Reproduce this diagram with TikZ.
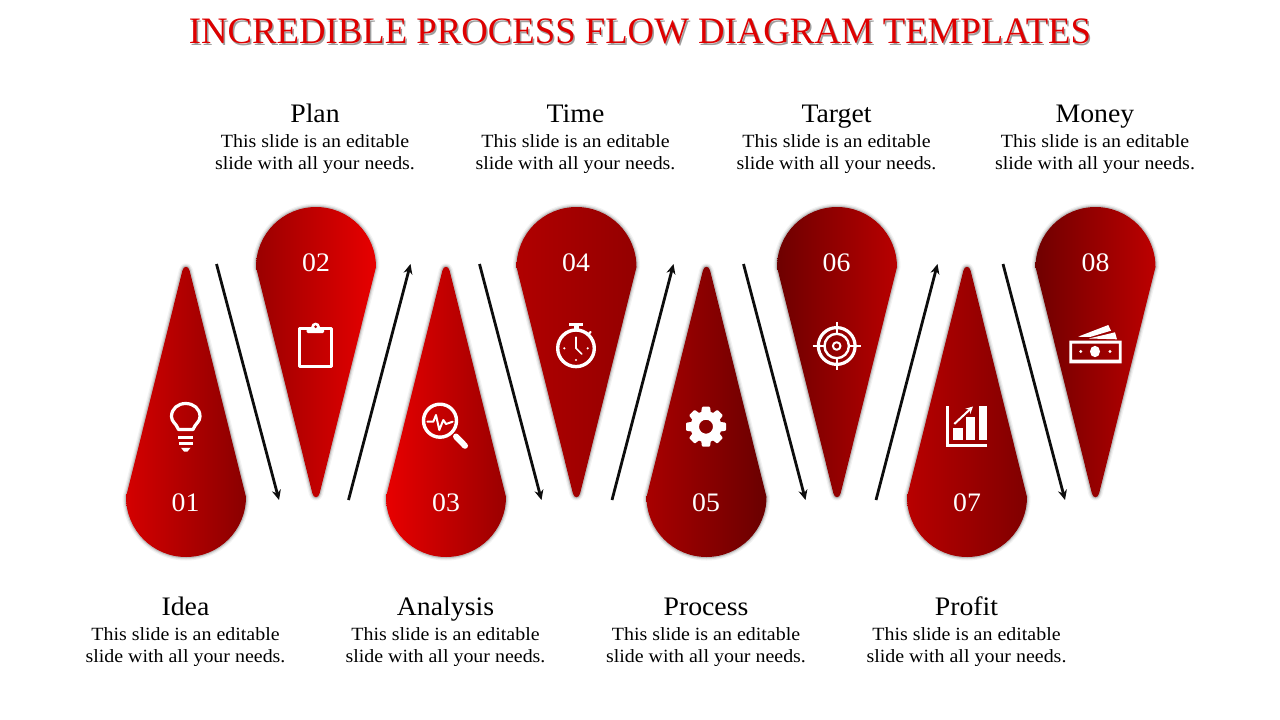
\documentclass[tikz,border=0pt]{standalone}
\usepackage{fontspec}
\setmainfont[FakeStretch=1.04]{Liberation Serif}
\newfontfamily\titlefont[FakeStretch=.985]{Liberation Serif}
\newfontfamily\copyfont[FakeStretch=1.068]{Liberation Serif}
\usetikzlibrary{arrows.meta}
\definecolor{titlered}{HTML}{DE0000}
\definecolor{ink}{HTML}{0D0D0D}
\definecolor{la}{HTML}{D40000}\definecolor{ra}{HTML}{8A0000}
\definecolor{lb}{HTML}{9A0000}\definecolor{rb}{HTML}{E80000}
\definecolor{lc}{HTML}{E80000}\definecolor{rc}{HTML}{9A0000}
\definecolor{ld}{HTML}{B00000}\definecolor{rd}{HTML}{940000}
\definecolor{le}{HTML}{A80000}\definecolor{re}{HTML}{6A0000}
\definecolor{lf}{HTML}{6E0000}\definecolor{rf}{HTML}{B80000}
\definecolor{lg}{HTML}{B80000}\definecolor{rg}{HTML}{800000}
\definecolor{lh}{HTML}{700000}\definecolor{rh}{HTML}{BC0000}
\tikzset{
  titletxt/.style={font=\titlefont\fontsize{37.3}{40}\selectfont,text=titlered,inner sep=0pt,anchor=base},
  titleshade/.style={font=\titlefont\fontsize{37.3}{40}\selectfont,text=black,opacity=.38,inner sep=0pt,anchor=base},
  numtxt/.style={font=\fontsize{26.7}{30}\selectfont,text=white,inner sep=0pt,anchor=base},
  headtxt/.style={font=\fontsize{26.7}{30}\selectfont,text=black,inner sep=0pt,anchor=base},
  bodytxt/.style={font=\copyfont\fontsize{18.67}{22}\selectfont,text=black,align=center,inner sep=0pt},
  flowarrow/.style={draw=ink,line width=2.8pt,-{Stealth[length=10pt,width=9pt]}},
  iconline/.style={draw=white,line width=3.2pt,line cap=round,line join=round},
  iconthin/.style={draw=white,line width=2.2pt,line cap=round,line join=round},
  iconfill/.style={fill=white},
}
% #1 centre x, #2 centre y, #3 direction (+1 bulge down, -1 bulge up), #4 left colour, #5 right colour
\newcommand{\dropshape}[5]{%
  \def\droppath{(#1-60,#2) .. controls (#1-60,{#2+#3*33.14}) and (#1-33.14,{#2+#3*60}) .. (#1,{#2+#3*60})
    .. controls (#1+33.14,{#2+#3*60}) and (#1+60,{#2+#3*33.14}) .. (#1+60,#2)
    -- (#1+3.6,{#2-#3*226.5})
    .. controls (#1+2.4,{#2-#3*231.5}) and (#1-2.4,{#2-#3*231.5}) .. (#1-3.6,{#2-#3*226.5}) -- cycle}%
  \draw[black,opacity=.05,line width=7pt,line join=round] \droppath;
  \draw[black,opacity=.08,line width=4.5pt,line join=round] \droppath;
  \draw[black,opacity=.14,line width=2.4pt,line join=round] \droppath;
  \shade[left color=#4,right color=#5] \droppath;
}
\newcommand{\bodytext}{This slide is an editable\\slide with all your needs.}
\begin{document}
\begin{tikzpicture}[x=1pt,y=-1pt]
\useasboundingbox[fill=white] (0,0) rectangle (1280,720);
\node[titleshade] (titleshadow) at (641.5,45.3) {INCREDIBLE PROCESS FLOW DIAGRAM TEMPLATES};
\node[titletxt] (title) at (640,43.5) {INCREDIBLE PROCESS FLOW DIAGRAM TEMPLATES};

\dropshape{186}{497}{1}{la}{ra}
\dropshape{316}{267}{-1}{lb}{rb}
\dropshape{446}{497}{1}{lc}{rc}
\dropshape{576.5}{267}{-1}{ld}{rd}
\dropshape{706.5}{497}{1}{le}{re}
\dropshape{837}{267}{-1}{lf}{rf}
\dropshape{967}{497}{1}{lg}{rg}
\dropshape{1095.5}{267}{-1}{lh}{rh}

% numbers
\node[numtxt] (n1) at (185.5,511.3) {01};
\node[numtxt] (n2) at (316,271.3) {02};
\node[numtxt] (n3) at (446,511.3) {03};
\node[numtxt] (n4) at (576,271.3) {04};
\node[numtxt] (n5) at (706,511.3) {05};
\node[numtxt] (n6) at (836.5,271.3) {06};
\node[numtxt] (n7) at (967,511.3) {07};
\node[numtxt] (n8) at (1095.5,271.3) {08};

% headings and descriptions
\node[headtxt] (h1) at (185.5,615) {Idea};
\node[bodytxt] (b1) at (185.5,647) {\bodytext};
\node[headtxt] (h2) at (315,122) {Plan};
\node[bodytxt] (b2) at (315,154) {\bodytext};
\node[headtxt] (h3) at (445.5,615) {Analysis};
\node[bodytxt] (b3) at (445.5,647) {\bodytext};
\node[headtxt] (h4) at (575.5,122) {Time};
\node[bodytxt] (b4) at (575.5,154) {\bodytext};
\node[headtxt] (h5) at (706,615) {Process};
\node[bodytxt] (b5) at (706,647) {\bodytext};
\node[headtxt] (h6) at (836.5,122) {Target};
\node[bodytxt] (b6) at (836.5,154) {\bodytext};
\node[headtxt] (h7) at (966.5,615) {Profit};
\node[bodytxt] (b7) at (966.5,647) {\bodytext};
\node[headtxt] (h8) at (1095,122) {Money};
\node[bodytxt] (b8) at (1095,154) {\bodytext};

% connectors
\coordinate (a1s) at (216.5,264); \coordinate (a1e) at (279,500);
\coordinate (a2s) at (348.5,500); \coordinate (a2e) at (410.5,264);
\coordinate (a3s) at (479.5,264); \coordinate (a3e) at (541.5,500);
\coordinate (a4s) at (612,500);   \coordinate (a4e) at (673.5,264);
\coordinate (a5s) at (743.5,264); \coordinate (a5e) at (805.5,500);
\coordinate (a6s) at (876,500);   \coordinate (a6e) at (937.5,264);
\coordinate (a7s) at (1003,264);  \coordinate (a7e) at (1065,500);
\draw[flowarrow] (a1s) -- (a1e);
\draw[flowarrow] (a2s) -- (a2e);
\draw[flowarrow] (a3s) -- (a3e);
\draw[flowarrow] (a4s) -- (a4e);
\draw[flowarrow] (a5s) -- (a5e);
\draw[flowarrow] (a6s) -- (a6e);
\draw[flowarrow] (a7s) -- (a7e);

% bulb
\draw[iconline] (178.5,429.5) .. controls (176,423) and (171.5,422) .. (171.5,416.5)
  .. controls (171.5,408.5) and (178,403.5) .. (185.7,403.5)
  .. controls (193.5,403.5) and (200,408.5) .. (200,416.5)
  .. controls (200,422) and (195.5,423) .. (193,429.5) -- cycle;
\fill[iconfill] (178,435.8) rectangle (193,439.2);
\fill[iconfill] (178.5,441.8) rectangle (192.5,445.4);
\fill[iconfill] (181,447.8) -- (190.5,447.8) -- (187.5,451.5) -- (184,451.5) -- cycle;

% clipboard
\draw[iconline,line width=3.2pt] (299.3,328.3) rectangle (331.7,366.8);
\fill[iconfill,rounded corners=1.2pt] (306.7,327) rectangle (324,333);
\fill[iconfill] (315.6,327) circle (4.4pt);
\fill[red!70!black] (315.7,326.7) circle (1.5pt);

% magnifier
\draw[iconline,line width=3.4pt] (440,420.7) circle (16.5pt);
\draw[iconline,line width=6pt] (456,436.5) -- (465,445.8);
\draw[iconthin,line width=2pt] (427.3,421.7) -- (433.3,421.7) -- (436,415) -- (439.3,430) -- (443.3,420) -- (446,424) -- (452.7,421.7);

% stopwatch
\draw[iconline,line width=3.4pt] (576,348.3) circle (18.3pt);
\fill[iconfill] (569,323) rectangle (583.3,326);
\fill[iconfill] (573.6,326) rectangle (578.6,331);
\draw[iconthin] (588,335) -- (590.5,332);
\draw[iconthin,line width=1.7pt] (576,337.3) -- (576,348.3) -- (581.7,354);
\foreach \p in {(564.3,348.3),(587.7,348.3),(576,360)} \fill[iconfill] \p circle (1.2pt);

% gear
\fill[iconfill,even odd rule] (706,426.7) circle (15.5pt) (706,426.7) circle (7pt);
\foreach \a in {0,45,...,315}
  \fill[iconfill,rotate around={\a:(706,426.7)},rounded corners=1pt] (701,414) -- (702,406.7) -- (710,406.7) -- (711,414) -- cycle;

% target
\draw[iconline,line width=3.2pt] (836.7,346) circle (18.4pt);
\draw[iconline,line width=2.4pt] (836.7,346) circle (12.2pt);
\draw[iconline,line width=2pt] (836.7,346) circle (3.8pt);
\draw[iconthin,line width=2.2pt,line cap=butt] (812.5,346) -- (825,346) (848.4,346) -- (861,346)
  (836.7,322) -- (836.7,334) (836.7,358) -- (836.7,370);

% chart
\fill[iconfill] (946,406) rectangle (948.7,446.7);
\fill[iconfill] (946,444) rectangle (987.3,446.7);
\fill[iconfill] (953.3,428.3) rectangle (962.7,440);
\fill[iconfill] (966,416.7) rectangle (975.3,440);
\fill[iconfill] (978.7,406) rectangle (987.3,440);
\draw[draw=white,line width=2pt,-{Stealth[length=7pt,width=7pt]}] (954.3,424) -- (973,406.5);

% money
\fill[iconfill,even odd rule] (1069.3,340.7) rectangle (1121.7,363.3) (1072.2,343.5) rectangle (1118.8,359.5);
\fill[iconfill] (1095,351.5) ellipse (5pt and 5.7pt);
\fill[iconfill] (1080.7,351.5) circle (1.7pt);
\fill[iconfill] (1110,351.5) circle (1.7pt);
\fill[iconfill] (1078,336.7) -- (1108.3,325) -- (1111,330.7) -- (1090,337) -- cycle;
\fill[iconfill] (1089,338.5) -- (1115,332.3) -- (1117,339.3) -- cycle;
\end{tikzpicture}
\end{document}
